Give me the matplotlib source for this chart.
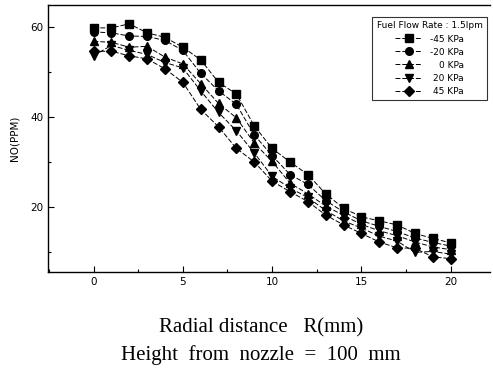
import matplotlib
matplotlib.use("Agg")
import matplotlib.pyplot as plt
from matplotlib.ticker import MultipleLocator

radius = list(range(0, 21))
p_m45 = [59.9, 59.9, 60.8, 58.8, 57.8, 55.6, 52.8, 47.8, 45.2, 38.1, 33.1, 30.1, 27.3, 23.0, 19.8, 17.9, 17.0, 16.1, 14.2, 13.1, 12.1]
p_m20 = [59.0, 58.8, 58.1, 58.0, 57.1, 54.9, 49.8, 45.9, 42.9, 36.1, 31.5, 27.3, 25.1, 21.5, 19.0, 17.0, 15.8, 14.6, 13.2, 12.2, 11.4]
p_0 = [56.9, 56.7, 55.6, 55.8, 53.4, 51.9, 47.5, 43.1, 39.9, 34.3, 30.2, 25.4, 23.0, 20.3, 18.2, 16.2, 14.8, 13.7, 12.3, 11.2, 10.6]
p_20 = [53.7, 56.0, 54.9, 54.0, 52.2, 51.0, 45.9, 41.1, 37.0, 32.1, 26.9, 24.3, 22.2, 19.3, 17.0, 15.4, 13.6, 12.5, 10.0, 10.2, 9.6]
p_45 = [54.7, 54.7, 53.7, 53.0, 50.8, 47.8, 41.8, 37.9, 33.1, 30.1, 25.8, 23.5, 21.3, 18.3, 16.1, 14.2, 12.3, 11.0, 10.9, 9.0, 8.6]

series = [p_m45, p_m20, p_0, p_20, p_45]
labels = ["-45 KPa", "-20 KPa", "0 KPa", "20 KPa", "45 KPa"]
markers = ["s", "o", "^", "v", "D"]
msizes = [5.5, 5.5, 6, 6, 5]

fig = plt.figure(figsize=(4.93, 3.80), dpi=100)
ax = fig.add_axes([0.098, 0.285, 0.896, 0.702])

for y, lab, m, ms in zip(series, labels, markers, msizes):
    ax.plot(radius, y, color="black", linestyle=(0, (5, 2)), linewidth=0.7,
            marker=m, markersize=ms, markerfacecolor="black",
            markeredgecolor="black", label=lab)

ax.set_xlim(-2.53, 22.2)
ax.set_ylim(5.7, 65)
ax.xaxis.set_major_locator(MultipleLocator(5))
ax.xaxis.set_minor_locator(MultipleLocator(2.5))
ax.yaxis.set_major_locator(MultipleLocator(20))
ax.yaxis.set_minor_locator(MultipleLocator(10))
ax.tick_params(which="both", direction="in", top=False, right=False,
               labelsize=7.5, width=0.8)
ax.tick_params(which="major", length=4)
ax.tick_params(which="minor", length=2)
ax.spines["right"].set_visible(False)
for s in ["left", "bottom", "top"]:
    ax.spines[s].set_linewidth(1.0)

ax.set_ylabel("NO(PPM)", fontsize=7.5, labelpad=8)

leg = ax.legend(title="Fuel Flow Rate : 1.5lpm", loc="upper right",
                bbox_to_anchor=(0.993, 0.955), borderaxespad=0.0,
                fontsize=6.5, title_fontsize=6.5,
                frameon=True, fancybox=False, edgecolor="black",
                handlelength=3.0, labelspacing=0.45, borderpad=0.5)
leg.get_frame().set_linewidth(0.8)

fig.text(0.53, 0.137, "Radial distance   R(mm)", ha="center", va="center",
         fontsize=15, family="Liberation Serif")
fig.text(0.53, 0.066, "Height  from  nozzle  =  100  mm", ha="center", va="center",
         fontsize=15, family="Liberation Serif")

# right-align legend labels within their column
fig.canvas.draw()
renderer = fig.canvas.get_renderer()
texts = leg.get_texts()
widths = [t.get_window_extent(renderer).width for t in texts]
wmax = max(widths)
for t, w in zip(texts, widths):
    t.set_x(wmax - w)

fig.savefig("out.png", dpi=100)
